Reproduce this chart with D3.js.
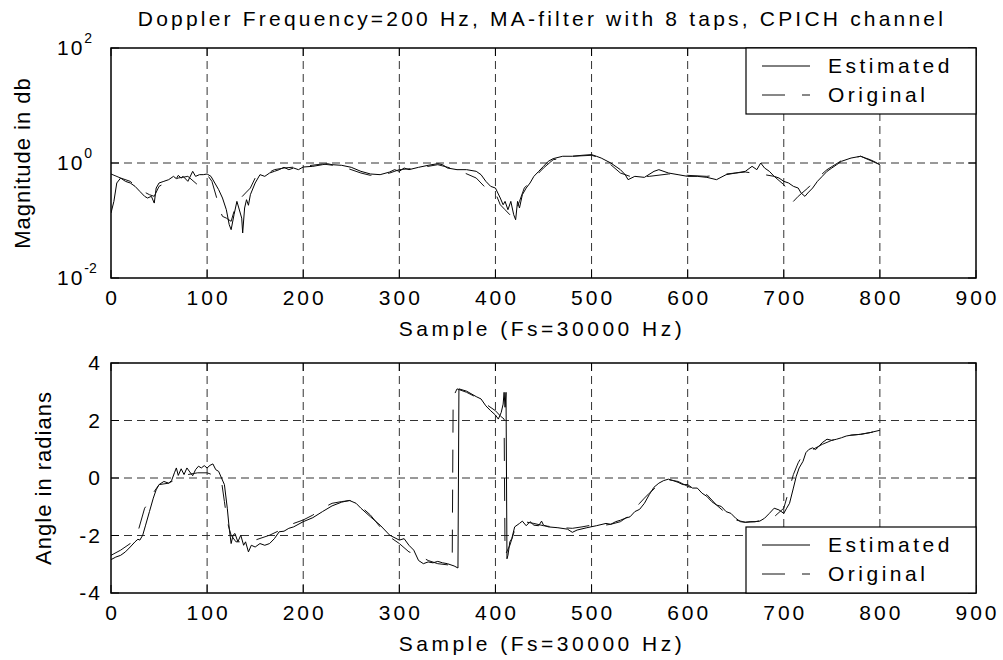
<!doctype html>
<html lang="en">
<head>
<meta charset="utf-8">
<title>Doppler Frequency=200 Hz, MA-filter with 8 taps, CPICH channel</title>
<style>
  body { margin: 0; background: #fff; }
  svg { display: block; font-family: "Liberation Sans", Arial, sans-serif; }
  .grid line { stroke: #333; stroke-width: 1; stroke-dasharray: 8,5; }
  .tick line { stroke: #000; stroke-width: 1; }
  .box { fill: none; stroke: #000; stroke-width: 1.5; }
  .est { fill: none; stroke: #000; stroke-width: 1; }
  .orig { fill: none; stroke: #111; stroke-width: 1; stroke-dasharray: 23,17; }
  text { fill: #000; }
</style>
</head>
<body>
<script src="https://d3js.org/d3.v7.min.js"></script>
<script>
(function() {

// ---- data ----
var xTicks = [0, 100, 200, 300, 400, 500, 600, 700, 800, 900];
var magTicks = [0.01, 1, 100];
var magTickExp = ["-2", "0", "2"];
var angTicks = [-4, -2, 0, 2, 4];
var seriesNames = ["Estimated", "Original"];

// magnitude, estimated
var magSampleEst = [0,3,6,10,15,20,25,30,35,38,42,45,47,50,55,60,65,68,70,73,75,80,85,88,92,96,100,104,108,112,116,120,123,125,128,131,133,136,137,139,141,143,145,150,155,160,165,170,175,180,185,190,195,200,210,220,225,230,240,250,260,270,280,290,295,300,305,310,320,330,340,345,350,360,370,380,385,390,395,400,405,408,410,413,416,419,421,423,425,428,432,436,440,445,450,455,460,470,480,490,500,505,510,520,530,535,538,545,555,565,570,580,590,600,610,620,630,640,650,660,667,672,676,680,685,690,695,700,705,710,715,718,722,725,730,735,740,745,750,755,760,770,780,785,790,795,800];
var magEst = [0.135,0.215,0.449,0.548,0.48,0.449,0.393,0.321,0.263,0.246,0.263,0.201,0.367,0.449,0.48,0.513,0.586,0.534,0.61,0.548,0.586,0.48,0.716,0.586,0.627,0.627,0.644,0.586,0.449,0.344,0.246,0.154,0.0847,0.0693,0.126,0.215,0.165,0.11,0.0607,0.165,0.23,0.184,0.281,0.449,0.627,0.586,0.67,0.716,0.766,0.841,0.766,0.819,0.766,0.852,0.875,0.935,0.974,0.935,0.911,0.841,0.716,0.644,0.627,0.697,0.766,0.716,0.819,0.766,0.841,0.911,0.974,0.935,0.819,0.766,0.766,0.716,0.627,0.48,0.393,0.367,0.246,0.188,0.215,0.154,0.215,0.126,0.103,0.215,0.165,0.281,0.367,0.449,0.586,0.716,0.875,1.07,1.19,1.31,1.31,1.36,1.40,1.31,1.22,1.0,0.766,0.627,0.513,0.586,0.563,0.716,0.766,0.67,0.627,0.586,0.586,0.563,0.513,0.627,0.67,0.716,0.875,0.766,1.0,0.819,0.716,0.586,0.548,0.48,0.449,0.393,0.367,0.301,0.263,0.301,0.367,0.48,0.586,0.716,0.819,0.935,1.07,1.22,1.31,1.22,1.14,1.04,0.935];

// magnitude, original
var magSampleOrig = [0,10,20,30,40,45,50,60,70,80,90,100,105,110,113,116,120,125,130,135,140,145,150,160,170,180,200,220,240,260,270,280,290,300,320,340,360,380,390,400,405,410,415,418,425,430,440,450,460,480,500,510,520,530,540,560,580,600,620,640,660,680,690,700,705,710,715,725,735,745,760,780,800];
var magOrig = [0.644,0.548,0.48,0.344,0.281,0.263,0.393,0.48,0.548,0.586,0.42,0.627,0.48,0.246,0.154,0.118,0.11,0.0967,0.188,0.246,0.301,0.367,0.548,0.627,0.766,0.819,0.875,0.961,0.875,0.67,0.61,0.61,0.67,0.766,0.819,0.935,0.766,0.548,0.367,0.301,0.188,0.154,0.126,0.11,0.215,0.367,0.548,0.819,1.14,1.31,1.36,1.22,0.935,0.67,0.586,0.586,0.644,0.61,0.586,0.644,0.697,0.627,0.586,0.42,0.321,0.215,0.263,0.367,0.548,0.766,1.10,1.31,0.935];

// angle, estimated
var angSampleEst = [0,5,10,15,20,25,28,30,33,36,40,44,47,50,55,60,63,66,68,70,73,76,79,82,85,88,91,94,97,100,103,106,109,112,115,118,121,123,125,127,129,132,135,138,140,143,146,150,155,160,165,170,175,180,185,190,200,210,220,230,240,248,255,260,270,280,290,300,305,310,315,320,325,330,335,340,345,350,357,361,362,370,380,385,390,395,400,403,406,408,409,410,411,412,413,415,417,420,425,428,432,436,440,445,448,450,455,465,475,480,485,495,505,515,520,525,530,535,540,545,550,555,560,565,570,575,580,585,590,595,600,605,610,615,620,625,630,635,640,645,650,655,660,665,670,675,680,685,690,695,700,703,706,710,713,716,720,723,726,730,733,736,740,745,750,755,760,765,770,780,790,800];
var angEst = [-2.84,-2.75,-2.69,-2.57,-2.40,-2.22,-2.13,-2.16,-1.99,-1.64,-1.17,-0.70,-0.41,-0.23,-0.12,-0.18,-0.09,0.18,0.35,0.09,0.32,0.12,0.35,0.21,0.08,0.29,0.41,0.35,0.43,0.35,0.44,0.49,0.29,0.23,0,-0.23,-1.05,-1.75,-2.28,-1.99,-1.93,-2.22,-1.99,-2.34,-2.22,-2.57,-2.34,-2.40,-2.28,-2.34,-2.28,-2.11,-1.87,-1.85,-1.75,-1.70,-1.52,-1.38,-1.17,-0.97,-0.84,-0.78,-0.88,-1.05,-1.35,-1.64,-1.99,-2.16,-2.11,-2.34,-2.51,-2.87,-2.98,-2.92,-2.95,-2.90,-2.95,-2.98,-3.06,-3.13,3.10,3.02,2.83,2.75,2.51,2.34,2.19,2.05,2.28,2.57,2.98,2.46,2.98,-2.81,-2.69,-2.22,-2.11,-1.70,-1.58,-1.50,-1.66,-1.52,-1.64,-1.66,-1.50,-1.64,-1.70,-1.73,-1.78,-1.89,-1.81,-1.73,-1.66,-1.58,-1.61,-1.52,-1.47,-1.40,-1.35,-1.17,-1.09,-0.88,-0.58,-0.32,-0.18,-0.09,-0.04,-0.09,-0.15,-0.23,-0.23,-0.35,-0.35,-0.53,-0.64,-0.82,-0.94,-0.99,-1.17,-1.23,-1.40,-1.52,-1.54,-1.52,-1.52,-1.50,-1.40,-1.23,-1.05,-1.11,-1.23,-1.05,-0.88,-0.35,0.06,0.35,0.58,0.88,0.99,1.05,0.99,1.08,1.23,1.35,1.31,1.35,1.40,1.46,1.49,1.52,1.58,1.66];

// angle, original
var angSampleOrig = [0,10,20,28,35,40,45,50,60,70,80,90,100,110,115,118,120,122,125,130,140,150,165,180,190,200,210,220,230,240,250,260,270,280,290,300,310,320,330,340,355,356,360,370,380,390,400,405,409,410,415,420,430,440,450,460,470,480,490,500,510,520,530,540,550,555,560,570,580,590,600,610,620,630,640,650,660,670,680,690,700,705,710,715,720,730,740,750,760,770,780,790,800];
var angOrig = [-2.69,-2.51,-2.28,-1.87,-1.05,-0.82,-0.47,-0.23,-0.18,0,0.12,0.18,0.18,0.06,-0.12,-0.82,-1.29,-1.64,-1.99,-2.22,-2.22,-2.16,-1.99,-1.75,-1.58,-1.46,-1.29,-1.05,-0.88,-0.82,-0.78,-0.99,-1.29,-1.70,-2.05,-2.28,-2.57,-2.69,-2.87,-2.98,-3.04,2.81,3.10,2.98,2.81,2.57,2.34,2.16,2.05,-2.69,-2.34,-1.81,-1.52,-1.58,-1.66,-1.70,-1.73,-1.75,-1.70,-1.64,-1.66,-1.61,-1.52,-1.29,-0.88,-0.70,-0.53,-0.23,-0.06,-0.12,-0.29,-0.41,-0.58,-0.94,-1.23,-1.46,-1.54,-1.52,-1.46,-1.35,-1.05,-0.47,0.12,0.53,0.82,0.99,1.17,1.31,1.40,1.49,1.52,1.58,1.66];

// ---- layout ----
var W = 1003, H = 660;
var left = 111, right = 976;
var font = 21;

var svg = d3.select("body").append("svg")
    .attr("width", W)
    .attr("height", H);

var x = d3.scaleLinear().domain([0, 900]).range([left, right]);

var panels = [
  {
    top: 48, bottom: 278,
    y: d3.scaleLog().domain([0.01, 100]),
    ticks: magTicks,
    est: d3.zip(magSampleEst, magEst),
    orig: d3.zip(magSampleOrig, magOrig),
    ylabel: "Magnitude in db", ylabelX: 30,
    legendTop: 48
  },
  {
    top: 363, bottom: 593,
    y: d3.scaleLinear().domain([-4, 4]),
    ticks: angTicks,
    est: d3.zip(angSampleEst, angEst),
    orig: d3.zip(angSampleOrig, angOrig),
    ylabel: "Angle in radians", ylabelX: 51,
    legendTop: 527
  }
];

panels.forEach(function(p, pi) {
  p.y.range([p.bottom, p.top]);
  var g = svg.append("g");

  // grid
  var grid = g.append("g").attr("class", "grid");
  grid.selectAll("line.vx").data(xTicks.slice(1, -1)).enter().append("line")
      .attr("x1", function(d) { return x(d); })
      .attr("x2", function(d) { return x(d); })
      .attr("y1", p.top).attr("y2", p.bottom);
  grid.selectAll("line.hy").data(p.ticks.slice(1, -1)).enter().append("line")
      .attr("x1", left).attr("x2", right)
      .attr("y1", function(d) { return p.y(d); })
      .attr("y2", function(d) { return p.y(d); });

  // inward ticks on all four sides
  var tk = g.append("g").attr("class", "tick");
  xTicks.forEach(function(d) {
    tk.append("line").attr("x1", x(d)).attr("x2", x(d)).attr("y1", p.bottom).attr("y2", p.bottom - 8);
    tk.append("line").attr("x1", x(d)).attr("x2", x(d)).attr("y1", p.top).attr("y2", p.top + 8);
  });
  p.ticks.forEach(function(d) {
    tk.append("line").attr("x1", left).attr("x2", left + 8).attr("y1", p.y(d)).attr("y2", p.y(d));
    tk.append("line").attr("x1", right).attr("x2", right - 8).attr("y1", p.y(d)).attr("y2", p.y(d));
  });

  // data lines
  var clipId = "clip" + pi;
  svg.append("clipPath").attr("id", clipId).append("rect")
      .attr("x", left).attr("y", p.top)
      .attr("width", right - left).attr("height", p.bottom - p.top);

  var line = d3.line()
      .x(function(d) { return x(d[0]); })
      .y(function(d) { return p.y(d[1]); });

  g.append("path").attr("class", "est").attr("clip-path", "url(#" + clipId + ")")
      .attr("d", line(p.est));
  g.append("path").attr("class", "orig").attr("clip-path", "url(#" + clipId + ")")
      .attr("d", line(p.orig));

  // box
  g.append("rect").attr("class", "box")
      .attr("x", left).attr("y", p.top)
      .attr("width", right - left).attr("height", p.bottom - p.top);

  // x tick labels
  g.selectAll("text.xt").data(xTicks).enter().append("text")
      .attr("x", function(d) { return x(d) + 1.5; })
      .attr("y", p.bottom + 27)
      .attr("text-anchor", "middle")
      .style("font-size", font + "px")
      .style("letter-spacing", "3px")
      .text(function(d) { return d; });

  // y tick labels
  if (pi === 0) {
    p.ticks.forEach(function(d, i) {
      var t = g.append("text")
          .attr("x", 57).attr("y", p.y(d) + 7)
          .style("font-size", font + "px")
          .style("letter-spacing", "2px");
      t.append("tspan").text("10");
      t.append("tspan").attr("dy", -12).style("font-size", "14px")
          .style("letter-spacing", "0px").text(magTickExp[i]);
    });
  } else {
    g.selectAll("text.yt").data(p.ticks).enter().append("text")
        .attr("x", 102).attr("y", function(d) { return p.y(d) + 7; })
        .attr("text-anchor", "end")
        .style("font-size", font + "px")
        .style("letter-spacing", "2px")
        .text(function(d) { return d; });
  }

  // x label
  g.append("text")
      .attr("x", 542).attr("y", p.bottom + 58)
      .attr("text-anchor", "middle")
      .style("font-size", font + "px")
      .style("letter-spacing", "3.5px")
      .text("Sample (Fs=30000 Hz)");

  // y label
  var cy = (p.top + p.bottom) / 2;
  g.append("text")
      .attr("transform", "translate(" + p.ylabelX + "," + cy + ") rotate(-90)")
      .attr("text-anchor", "middle")
      .style("font-size", "22px")
      .style("letter-spacing", "1px")
      .text(p.ylabel);

  // legend
  var lg = g.append("g").attr("transform", "translate(746," + p.legendTop + ")");
  lg.append("rect").attr("width", 230).attr("height", 66)
      .attr("fill", "#fff").attr("stroke", "#000").attr("stroke-width", 1.2);
  seriesNames.forEach(function(name, i) {
    var ly = 18 + i * 29;
    lg.append("line").attr("class", i === 0 ? "est" : "orig")
        .attr("x1", 16).attr("x2", 64).attr("y1", ly).attr("y2", ly);
    lg.append("text").attr("x", 82).attr("y", ly + 6.5)
        .style("font-size", font + "px")
        .style("letter-spacing", "3.5px")
        .text(name);
  });
});

// title
svg.append("text")
    .attr("x", 542).attr("y", 26)
    .attr("text-anchor", "middle")
    .style("font-size", font + "px")
    .style("letter-spacing", "3.2px")
    .text("Doppler Frequency=200 Hz, MA-filter with 8 taps, CPICH channel");

})();
</script>
</body>
</html>
